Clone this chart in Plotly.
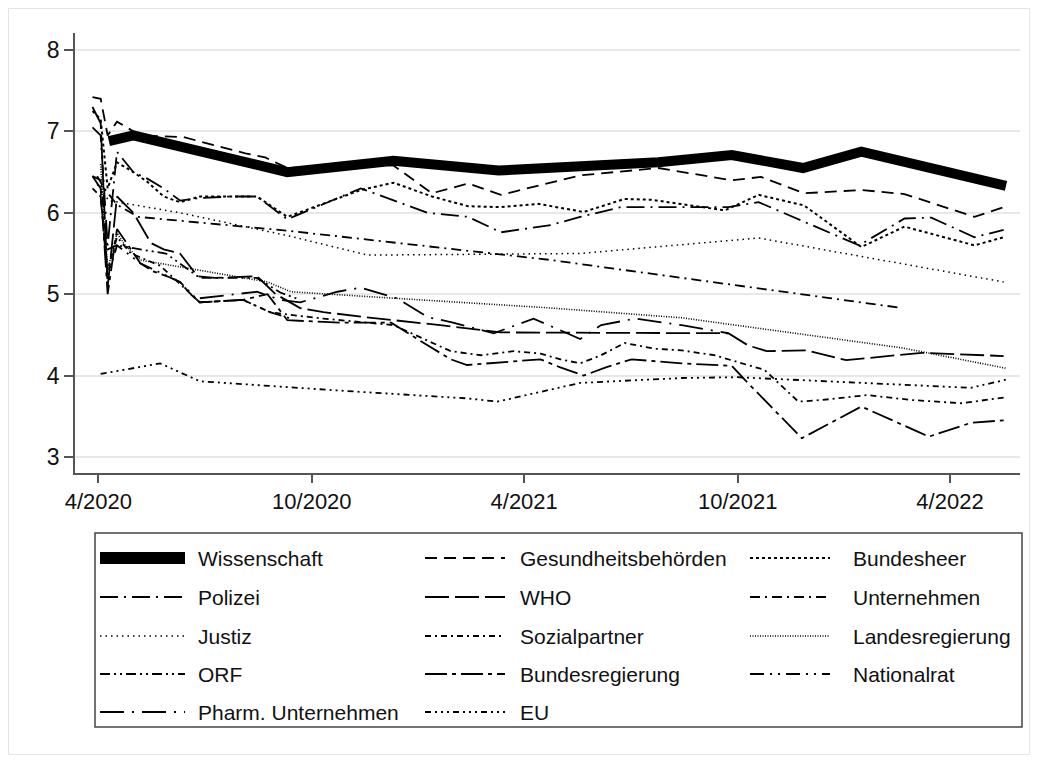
import plotly.graph_objects as go

# ---------------- data (survey waves, mean trust 0-10) ----------------
wiss_d = ["2020-04-10","2020-05-01","2020-09-10","2020-12-10","2021-03-10","2021-05-28","2021-07-25","2021-09-26","2021-11-26","2022-01-15","2022-05-19"]
wiss_v = [6.88, 6.95, 6.50, 6.64, 6.52, 6.57, 6.62, 6.71, 6.55, 6.75, 6.33]

gesund_d = ["2020-03-27","2020-04-03","2020-04-09","2020-04-17","2020-05-07","2020-06-13","2020-08-05","2020-08-22","2020-09-10","2020-11-12","2020-12-10","2021-01-12","2021-02-12","2021-03-12","2021-05-19","2021-07-25","2021-09-26","2021-10-21","2021-11-27","2022-01-15","2022-02-21","2022-04-22","2022-05-17"]
gesund_v = [7.42, 7.40, 6.95, 7.12, 6.95, 6.93, 6.73, 6.68, 6.55, 6.60, 6.58, 6.24, 6.36, 6.22, 6.46, 6.55, 6.40, 6.44, 6.24, 6.28, 6.23, 5.95, 6.07]

heer_d = ["2020-03-27","2020-04-03","2020-04-09","2020-04-17","2020-05-01","2020-05-13","2020-05-27","2020-06-10","2020-06-27","2020-07-23","2020-08-15","2020-09-10","2020-11-12","2020-12-10","2021-01-12","2021-02-12","2021-03-12","2021-04-13","2021-05-22","2021-06-26","2021-07-19","2021-09-20","2021-10-19","2021-11-27","2022-01-15","2022-02-21","2022-04-22","2022-05-17"]
heer_v = [7.25, 7.15, 6.30, 6.62, 6.50, 6.38, 6.20, 6.13, 6.20, 6.20, 6.20, 5.95, 6.28, 6.37, 6.20, 6.08, 6.07, 6.11, 6.01, 6.17, 6.16, 6.03, 6.22, 6.09, 5.58, 5.83, 5.60, 5.70]

polizei_d = ["2020-03-27","2020-04-03","2020-04-09","2020-04-17","2020-05-01","2020-05-13","2020-05-27","2020-06-10","2020-06-27","2020-07-23","2020-08-15","2020-09-10","2020-11-12","2021-01-08","2021-02-12","2021-03-12","2021-04-24","2021-05-19","2021-06-23","2021-07-19","2021-09-23","2021-10-19","2021-11-27","2022-01-13","2022-02-21","2022-03-16","2022-04-22","2022-05-17"]
polizei_v = [7.05, 6.95, 5.60, 6.75, 6.50, 6.42, 6.30, 6.15, 6.18, 6.20, 6.20, 5.92, 6.30, 6.00, 5.95, 5.76, 5.85, 5.95, 6.07, 6.07, 6.07, 6.13, 5.89, 5.60, 5.93, 5.94, 5.70, 5.79]

who_d = ["2020-03-27","2020-04-03","2020-04-09","2020-04-17","2020-05-01","2020-05-16","2020-05-27","2020-06-10","2020-06-25","2020-07-10","2020-08-15","2020-08-31","2020-09-21","2020-10-11","2020-11-14","2020-12-10","2021-01-19","2021-03-12","2021-07-19","2021-09-23","2021-10-10","2021-10-26","2021-11-29","2022-01-02","2022-01-31","2022-03-08","2022-05-17"]
who_v = [7.30, 7.10, 5.10, 6.20, 6.00, 5.63, 5.55, 5.50, 5.22, 5.20, 5.22, 5.00, 4.83, 4.78, 4.72, 4.68, 4.62, 4.53, 4.52, 4.52, 4.37, 4.30, 4.31, 4.19, 4.23, 4.28, 4.24]

untern_d = ["2020-03-31","2020-04-06","2020-04-17","2020-05-05","2020-09-10","2021-04-24","2022-02-19"]
untern_v = [6.45, 6.30, 6.10, 5.95, 5.78, 5.42, 4.83]

justiz_d = ["2020-03-31","2020-04-10","2020-06-10","2020-09-10","2020-11-18","2021-03-29","2021-05-19","2021-10-19","2022-05-17"]
justiz_v = [6.35, 6.15, 6.00, 5.72, 5.48, 5.50, 5.50, 5.69, 5.15]

sozial_d = ["2020-03-27","2020-04-03","2020-04-09","2020-04-17","2020-04-29","2020-05-24","2020-06-27","2020-08-03","2020-08-26","2020-09-10","2020-10-11","2020-12-10","2021-01-05","2021-01-28","2021-02-23","2021-03-23","2021-04-15","2021-05-02","2021-05-19","2021-06-06","2021-06-26","2021-07-22","2021-08-14","2021-09-11","2021-10-24","2021-11-22","2021-12-12","2022-01-20","2022-02-27","2022-04-11","2022-05-17"]
sozial_v = [6.30, 6.20, 5.30, 5.70, 5.50, 5.35, 4.90, 4.93, 4.78, 4.75, 4.70, 4.62, 4.45, 4.30, 4.25, 4.30, 4.27, 4.20, 4.15, 4.25, 4.40, 4.33, 4.31, 4.25, 4.07, 3.68, 3.70, 3.76, 3.70, 3.66, 3.73]

landes_d = ["2020-04-03","2020-04-09","2020-04-17","2020-04-24","2020-05-07","2020-06-25","2020-08-24","2020-09-13","2021-01-02","2021-04-24","2021-08-14","2021-11-16","2022-02-19","2022-05-19"]
landes_v = [6.60, 5.30, 5.75, 5.60, 5.42, 5.30, 5.15, 5.03, 4.93, 4.83, 4.71, 4.53, 4.34, 4.09]

orf_d = ["2020-03-27","2020-04-03","2020-04-09","2020-04-17","2020-05-07","2020-05-29","2020-06-27","2020-07-23","2020-08-15","2020-09-04","2020-09-21"]
orf_v = [6.45, 6.40, 5.55, 5.60, 5.55, 5.50, 5.20, 5.20, 5.20, 5.02, 4.93]

bureg_d = ["2020-03-27","2020-04-03","2020-04-09","2020-04-17","2020-04-29","2020-05-07","2020-05-18","2020-05-30","2020-06-10","2020-06-19","2020-06-27","2020-08-03","2020-08-24","2020-09-10","2020-10-26","2020-12-08","2021-01-05","2021-01-28","2021-02-11","2021-03-23","2021-04-15","2021-05-02","2021-05-22","2021-06-10","2021-07-02","2021-08-14","2021-09-26","2021-10-07","2021-11-25","2022-01-15","2022-03-14","2022-04-19","2022-05-17"]
bureg_v = [6.45, 6.30, 5.00, 5.80, 5.55, 5.38, 5.28, 5.22, 5.15, 5.00, 4.90, 4.93, 5.00, 4.68, 4.65, 4.65, 4.40, 4.20, 4.13, 4.17, 4.20, 4.10, 4.00, 4.10, 4.20, 4.15, 4.12, 3.95, 3.23, 3.62, 3.25, 3.42, 3.45]

nat_d = ["2020-04-03","2020-04-09","2020-04-17","2020-05-07","2020-06-10","2020-06-27","2020-08-03","2020-08-26","2020-09-13"]
nat_v = [6.20, 5.20, 5.60, 5.38, 5.15, 4.90, 4.93, 4.78, 4.70]

pharm_d = ["2020-06-27","2020-08-15","2020-09-04","2020-09-21","2020-10-23","2020-11-12","2020-12-13","2021-01-08","2021-01-30","2021-03-06","2021-04-09","2021-05-08","2021-05-19","2021-06-06","2021-07-05","2021-08-14","2021-09-23"]
pharm_v = [4.95, 5.03, 4.93, 4.90, 5.03, 5.08, 4.95, 4.72, 4.65, 4.52, 4.70, 4.52, 4.45, 4.62, 4.70, 4.62, 4.52]

eu_d = ["2020-04-03","2020-05-24","2020-06-27","2020-09-04","2020-10-20","2020-12-27","2021-02-11","2021-03-09","2021-04-21","2021-05-19","2021-08-14","2021-09-30","2022-04-19","2022-05-19"]
eu_v = [4.02, 4.15, 3.93, 3.86, 3.82, 3.76, 3.72, 3.68, 3.82, 3.91, 3.97, 3.98, 3.85, 3.95]

# name, dates, values, dash pattern, width
series = [
    ("Wissenschaft", wiss_d, wiss_v, "solid", 10),
    ("Gesundheitsbehörden", gesund_d, gesund_v, "12px,7px", 1.8),
    ("Bundesheer", heer_d, heer_v, "3px,3px", 2),
    ("Polizei", polizei_d, polizei_v, "18px,6px,2px,6px", 1.8),
    ("WHO", who_d, who_v, "24px,6px", 1.8),
    ("Unternehmen", untern_d, untern_v, "10px,5px,2px,5px", 1.8),
    ("Justiz", justiz_d, justiz_v, "1.5px,4px", 1.5),
    ("Sozialpartner", sozial_d, sozial_v, "6px,4px,2px,4px", 1.8),
    ("Landesregierung", landes_d, landes_v, "1px,1.5px", 1.6),
    ("ORF", orf_d, orf_v, "10px,4px,2px,4px,2px,4px", 1.8),
    ("Bundesregierung", bureg_d, bureg_v, "22px,5px,4px,5px", 1.8),
    ("Nationalrat", nat_d, nat_v, "14px,6px,2px,6px,2px,6px", 1.8),
    ("Pharm. Unternehmen", pharm_d, pharm_v, "24px,8px,2px,8px", 1.8),
    ("EU", eu_d, eu_v, "6px,4px,2px,4px,2px,4px,2px,4px", 1.8),
]

tick_vals = ["2020-04-01", "2020-10-01", "2021-04-01", "2021-10-01", "2022-04-01"]
tick_text = ["4/2020", "10/2020", "4/2021", "10/2021", "4/2022"]
y_ticks = [3, 4, 5, 6, 7, 8]

# ---------------- figure (page body has an 8px margin) ----------------
OFF = 8
W, H = 1022, 747
L, T = 75 - OFF, 33 - OFF
R = W - (1020 - OFF)
B = H - (473 - OFF)
FONT = "Liberation Sans, Arial, Helvetica, sans-serif"

fig = go.Figure()
for name, d, v, dash, w in series:
    fig.add_trace(go.Scatter(x=d, y=v, mode="lines", name=name, showlegend=False,
                             line=dict(color="black", width=w, dash=dash)))

fig.update_layout(
    width=W, height=H, margin=dict(l=L, r=R, t=T, b=B),
    paper_bgcolor="white", plot_bgcolor="white",
    font=dict(family=FONT, color="#111"),
    showlegend=False,
)
fig.update_xaxes(type="date", range=["2020-03-12", "2022-05-31"],
                 tickvals=tick_vals, ticktext=tick_text, tickfont=dict(size=22, family=FONT, color="#111"),
                 showgrid=False, zeroline=False, showline=True, linecolor="#555", linewidth=1.5,
                 ticks="outside", ticklen=8, tickcolor="#555", tickwidth=1.5)
fig.update_yaxes(range=[2.803, 8.209], tickvals=y_ticks, tickfont=dict(size=23, family=FONT, color="#111"),
                 showgrid=True, gridcolor="#e8e8e8", gridwidth=2, zeroline=False,
                 showline=True, linecolor="#555", linewidth=1.5,
                 ticks="outside", ticklen=9, tickcolor="#555", tickwidth=1.5)

# ---------------- manual legend (Stata style) ----------------
PW, PH = W - L - R, H - T - B
def px(x):
    return (x - OFF - L) / PW
def py(y):
    return (H - B - (y - OFF)) / PH

shapes = [dict(type="rect", xref="paper", yref="paper", x0=px(95), x1=px(1022), y0=py(533), y1=py(727),
               line=dict(color="#444", width=1.5), fillcolor="rgba(0,0,0,0)")]
annotations = []
row_y = [558, 597, 636, 674, 712]
col_sample = [(100, 185), (425, 505), (750, 830)]
col_text = [196, 518, 851]
for i, (name, d, v, dash, w) in enumerate(series):
    r, c = divmod(i, 3)
    yy = row_y[r]
    x0, x1 = col_sample[c]
    shapes.append(dict(type="line", xref="paper", yref="paper", x0=px(x0), x1=px(x1), y0=py(yy), y1=py(yy),
                       line=dict(color="black", width=(12 if w > 5 else w), dash=dash)))
    annotations.append(dict(xref="paper", yref="paper", x=px(col_text[c]), y=py(yy), text=name,
                            showarrow=False, xanchor="left", yanchor="middle",
                            font=dict(size=21, family=FONT, color="#111")))
# light outer frame around the whole graph region
shapes.append(dict(type="rect", xref="paper", yref="paper", x0=px(OFF + 0.5), x1=px(OFF + W - 0.5),
                   y0=py(OFF + 0.5), y1=py(OFF + H - 0.5),
                   line=dict(color="#e4e4e4", width=1), fillcolor="rgba(0,0,0,0)", layer="below"))
fig.update_layout(shapes=shapes, annotations=annotations)

fig.write_html("out.html")
